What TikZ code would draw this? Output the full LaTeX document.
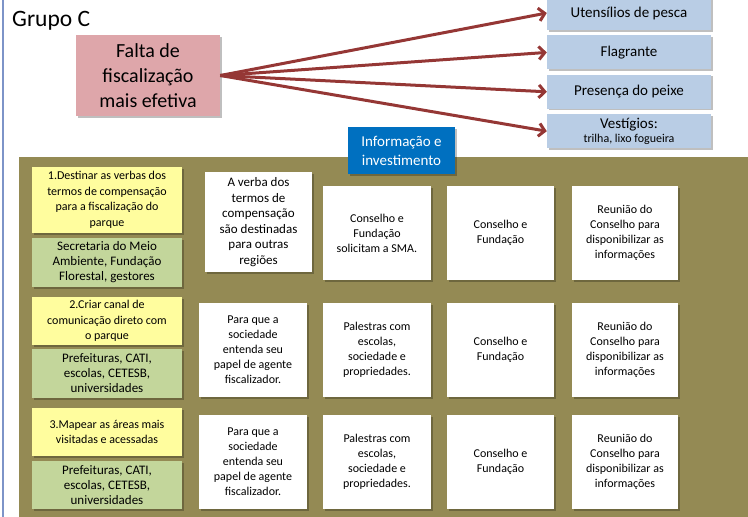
\documentclass[tikz,border=0pt]{standalone}
\usepackage{fontspec}
\setmainfont{Carlito}
\usepackage{xcolor}
\usetikzlibrary{arrows.meta, positioning, shadows}
\definecolor{pinkbox}{RGB}{222,166,170}
\definecolor{bluebox}{RGB}{185,205,229}
\definecolor{infoblue}{RGB}{0,112,192}
\definecolor{olive}{RGB}{148,138,84}
\definecolor{yellowbox}{RGB}{255,253,158}
\definecolor{greenbox}{RGB}{195,214,155}
\definecolor{darkred}{RGB}{149,55,53}
\definecolor{frameline}{RGB}{125,148,200}
\tikzstyle{boxshadow} = [drop shadow={shadow xshift=1.5pt, shadow yshift=-1.5pt, opacity=0.25, fill=black}]
\tikzstyle{problem} = [rectangle, minimum width=144pt, minimum height=81pt, inner sep=0pt, align=center, fill=pinkbox, boxshadow, font=\fontsize{20}{25}\selectfont]
\tikzstyle{evidence} = [rectangle, minimum width=164pt, minimum height=34pt, inner sep=0pt, align=center, fill=bluebox, boxshadow, font=\fontsize{15}{17}\selectfont]
\tikzstyle{info} = [rectangle, minimum width=107pt, minimum height=47pt, inner sep=0pt, align=center, fill=infoblue, text=white, boxshadow, font=\fontsize{15}{19}\selectfont]
\tikzstyle{action} = [rectangle, minimum width=150pt, inner sep=0pt, align=center, fill=yellowbox, boxshadow, font=\fontsize{12}{15.5}\selectfont]
\tikzstyle{actor} = [rectangle, minimum width=150pt, minimum height=49pt, inner sep=0pt, align=center, fill=greenbox, boxshadow, font=\fontsize{13}{15}\selectfont]
\tikzstyle{card} = [rectangle, minimum width=107pt, minimum height=94pt, inner sep=0pt, align=center, fill=white, boxshadow, font=\fontsize{12}{15}\selectfont]
\tikzstyle{arrow} = [darkred, line width=3pt, -{Straight Barb[length=6pt, width=13pt]}]

\begin{document}
\begin{tikzpicture}[x=1pt, y=-1pt]
\useasboundingbox (0,0) rectangle (748,517);

% frame and panel
\draw [frameline, line width=1.5pt] (3,0) -- (3,517);
\fill [olive] (19,157) rectangle (748,517);

\node (title) [anchor=west, inner sep=0pt, font=\fontsize{23.5}{26}\selectfont] at (12,21) {Grupo C};

% problem and evidence
\node (problem) [problem] at (148,75.5) {Falta de\\fiscalização\\mais efetiva};

\node (utensilios) [evidence] at (629,13) {Utensílios de pesca};
\node (flagrante) [evidence, below=5pt of utensilios] {Flagrante};
\node (presenca) [evidence, below=5pt of flagrante] {Presença do peixe};
\node (vestigios) [evidence, below=5pt of presenca, font=\fontsize{15}{14}\selectfont] {Vestígios:\\{\fontsize{12}{14}\selectfont trilha, lixo fogueira}};

\node (info) [info] at (401.5,150.5) {Informação e\\investimento};

% row 1
\node (action-1) [action, minimum height=66pt] at (107,200) {1.Destinar as verbas dos\\termos de compensação\\para a fiscalização do\\parque};
\node (actor-1) [actor] at (107,262.5) {Secretaria do Meio\\Ambiente, Fundação\\Florestal, gestores};
\node (verba-1) [card, minimum height=100pt, font=\fontsize{13}{15.6}\selectfont] at (258.5,222) {A verba dos\\termos de\\compensação\\são destinadas\\para outras\\regiões};
\node (solicita-1) [card, minimum width=108pt] at (377,233) {Conselho e\\Fundação\\solicitam a SMA.};
\node (conselho-1) [card] at (500.5,233) {Conselho e\\Fundação};
\node (reuniao-1) [card, minimum width=106pt] at (625,233) {Reunião do\\Conselho para\\disponibilizar as\\informações};

% row 2
\node (action-2) [action, minimum height=48pt] at (107,321) {2.Criar canal de\\comunicação direto com\\o parque};
\node (actor-2) [actor] at (107,373.5) {Prefeituras, CATI,\\escolas, CETESB,\\universidades};
\node (papel-2) [card, minimum width=108pt] at (253,350) {Para que a\\sociedade\\entenda seu\\papel de agente\\fiscalizador.};
\node (palestras-2) [card, minimum width=108pt] at (377,350) {Palestras com\\escolas,\\sociedade e\\propriedades.};
\node (conselho-2) [card] at (500.5,350) {Conselho e\\Fundação};
\node (reuniao-2) [card, minimum width=106pt] at (625,350) {Reunião do\\Conselho para\\disponibilizar as\\informações};

% row 3
\node (action-3) [action, minimum height=48pt] at (107,432) {3.Mapear as áreas mais\\visitadas e acessadas};
\node (actor-3) [actor, minimum height=48pt] at (107,485) {Prefeituras, CATI,\\escolas, CETESB,\\universidades};
\node (papel-3) [card, minimum width=108pt] at (253,462) {Para que a\\sociedade\\entenda seu\\papel de agente\\fiscalizador.};
\node (palestras-3) [card, minimum width=108pt] at (377,462) {Palestras com\\escolas,\\sociedade e\\propriedades.};
\node (conselho-3) [card] at (500.5,462) {Conselho e\\Fundação};
\node (reuniao-3) [card, minimum width=106pt] at (625,462) {Reunião do\\Conselho para\\disponibilizar as\\informações};

% Arrows
\draw [arrow] (problem.east) -- (utensilios.west);
\draw [arrow] (problem.east) -- (flagrante.west);
\draw [arrow] (problem.east) -- (presenca.west);
\draw [arrow] (problem.east) -- (vestigios.west);

\end{tikzpicture}
\end{document}
